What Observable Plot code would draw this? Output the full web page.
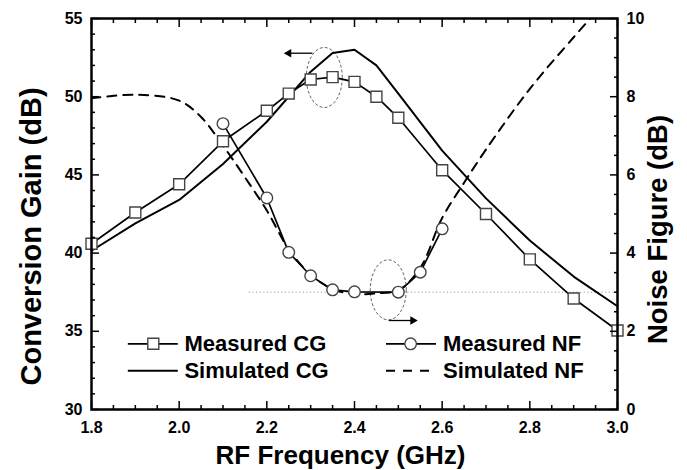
<!DOCTYPE html>
<html>
<head>
<meta charset="utf-8">
<script src="https://cdn.jsdelivr.net/npm/d3@7"></script>
<script src="https://cdn.jsdelivr.net/npm/@observablehq/plot@0.6"></script>
<style>
  html, body { margin: 0; padding: 0; background: #fff; }
  #chart { width: 687px; height: 470px; }
</style>
</head>
<body>
<div id="chart"></div>
<script>
// ---- data ----
const freqMeasCG = [1.8, 1.9, 2.0, 2.1, 2.2, 2.25, 2.3, 2.35, 2.4, 2.45, 2.5, 2.6, 2.7, 2.8, 2.9, 3.0];
const measuredCG = [40.6, 42.6, 44.4, 47.15, 49.1, 50.2, 51.1, 51.25, 50.95, 50.0, 48.65, 45.3, 42.5, 39.6, 37.1, 35.05];

const freqSimCG = [1.8, 1.9, 2.0, 2.1, 2.2, 2.3, 2.35, 2.4, 2.45, 2.5, 2.6, 2.7, 2.8, 2.9, 3.0];
const simulatedCG = [40.15, 41.9, 43.4, 45.7, 48.4, 51.6, 52.8, 53.0, 52.0, 50.2, 46.55, 43.5, 40.8, 38.5, 36.6];

const freqMeasNF = [2.1, 2.2, 2.25, 2.3, 2.35, 2.4, 2.5, 2.55, 2.6];
const measuredNF = [7.31, 5.41, 4.02, 3.42, 3.06, 3.01, 3.0, 3.51, 4.62];

const freqSimNF = [1.8, 1.9, 2.0, 2.05, 2.1, 2.15, 2.2, 2.25, 2.3, 2.35, 2.4, 2.45, 2.5, 2.55, 2.6, 2.65, 2.7, 2.8, 2.9, 2.95];
const simulatedNF = [7.96, 8.05, 7.9, 7.48, 6.75, 5.94, 5.09, 4.1, 3.45, 3.08, 2.95, 2.97, 3.05, 3.62, 4.9, 5.8, 6.65, 8.2, 9.52, 10.15];

const refNF = 3;                 // dotted reference level (dB)
const refNFRange = [2.16, 3.0];  // GHz

const xMajorTicks = [1.8, 2.0, 2.2, 2.4, 2.6, 2.8, 3.0];
const xAllTicks = d3.range(36, 61).map(k => k / 20);          // every 0.05 GHz
const cgMajorTicks = [30, 35, 40, 45, 50, 55];
const cgAllTicks = d3.range(30, 56);                            // every 1 dB
const nfMajorTicks = [0, 2, 4, 6, 8, 10];
const nfAllTicks = d3.range(0, 21).map(k => k / 2);             // every 0.5 dB

const legendLabels = ["Measured CG", "Simulated CG", "Measured NF", "Simulated NF"];
const xTitle = "RF Frequency (GHz)";
const yTitle = "Conversion Gain (dB)";
const y2Title = "Noise Figure (dB)";

// annotation ellipses (center in data units) and arrows
const ellipseCenters = [{f: 2.331, cg: 51.23}, {f: 2.477, nf: 3.06}];
const arrowsCG = [{f1: 2.304, f2: 2.25, cg: 52.78}];
const arrowsNF = [{f1: 2.478, f2: 2.533, cg: 35.69}];

// ---- helpers ----
const nfToCG = nf => 30 + nf * 2.5;   // right axis 0..10 maps onto left 30..55
const zip = (xs, ys) => xs.map((x, i) => ({x, y: ys[i]}));
const mCG = zip(freqMeasCG, measuredCG);
const sCG = zip(freqSimCG, simulatedCG);
const mNF = zip(freqMeasNF, measuredNF.map(nfToCG));
const sNF = zip(freqSimNF, simulatedNF.map(nfToCG));

const ellipseSymbol = {
  draw(ctx) {
    const rx = 18, ry = 30, k = 0.5523;
    ctx.moveTo(rx, 0);
    ctx.bezierCurveTo(rx, ry * k, rx * k, ry, 0, ry);
    ctx.bezierCurveTo(-rx * k, ry, -rx, ry * k, -rx, 0);
    ctx.bezierCurveTo(-rx, -ry * k, -rx * k, -ry, 0, -ry);
    ctx.bezierCurveTo(rx * k, -ry, rx, -ry * k, rx, 0);
    ctx.closePath();
  }
};
const ellipses = [
  {x: ellipseCenters[0].f, y: ellipseCenters[0].cg},
  {x: ellipseCenters[1].f, y: nfToCG(ellipseCenters[1].nf)}
];
const arrows = [
  {x1: arrowsCG[0].f1, x2: arrowsCG[0].f2, y: arrowsCG[0].cg, rot: -90},
  {x1: arrowsNF[0].f1, x2: arrowsNF[0].f2, y: arrowsNF[0].cg, rot: 90}
];

// legend layout (data units)
const legRowY = [34.2, 32.48];
const legLeft = {x1: 1.884, x2: 1.998, xm: 1.941, xt: 2.012};
const legRight = {x1: 2.473, x2: 2.587, xm: 2.528, xt: 2.602};
const legendText = [
  {x: legLeft.xt, y: legRowY[0], t: legendLabels[0]},
  {x: legLeft.xt, y: legRowY[1], t: legendLabels[1]},
  {x: legRight.xt, y: legRowY[0], t: legendLabels[2]},
  {x: legRight.xt, y: legRowY[1], t: legendLabels[3]}
];

const font = "'Liberation Sans', Arial, Helvetica, sans-serif";
const noText = () => "";
const isMajorX = d => xMajorTicks.some(m => Math.abs(m - d) < 1e-9);

const chart = Plot.plot({
  width: 687,
  height: 470,
  marginLeft: 91,
  marginRight: 70,
  marginTop: 18,
  marginBottom: 61,
  x: {domain: [1.8, 3.0]},
  y: {domain: [30, 55]},
  style: {fontFamily: font, fontWeight: "bold", fontSize: "16px", background: "#fff", color: "#000", overflow: "visible"},
  marks: [
    // dotted reference line at NF = 3 dB
    Plot.ruleY([nfToCG(refNF)], {x1: refNFRange[0], x2: refNFRange[1], stroke: "#9a9a9a", strokeWidth: 1, strokeDasharray: "1.2,2.4"}),
    // dashed ellipses
    Plot.dot(ellipses, {x: "x", y: "y", symbol: ellipseSymbol, r: 10, fill: "none", stroke: "#666", strokeWidth: 1, strokeDasharray: "3,2"}),
    // arrows
    Plot.link(arrows, {x1: "x1", x2: "x2", y1: "y", y2: "y", stroke: "#000", strokeWidth: 1.3}),
    Plot.dot(arrows, {x: "x2", y: "y", symbol: "triangle", r: 3.2, rotate: "rot", fill: "#000", stroke: "none"}),
    // simulated curves
    Plot.line(sCG, {x: "x", y: "y", stroke: "#000", strokeWidth: 2}),
    Plot.line(sNF, {x: "x", y: "y", stroke: "#000", strokeWidth: 2, strokeDasharray: "9,7", curve: "catmull-rom", clip: true}),
    // measured curves
    Plot.line(mCG, {x: "x", y: "y", stroke: "#000", strokeWidth: 1.7}),
    Plot.line(mNF, {x: "x", y: "y", stroke: "#000", strokeWidth: 1.7}),
    Plot.dot(mCG, {x: "x", y: "y", symbol: "square", r: 6.2, fill: "#fff", stroke: "#444", strokeWidth: 1.4}),
    Plot.dot(mNF, {x: "x", y: "y", symbol: "circle", r: 5.8, fill: "#fff", stroke: "#444", strokeWidth: 1.4}),

    // legend
    Plot.ruleY([legRowY[0]], {x1: legLeft.x1, x2: legLeft.x2, stroke: "#000", strokeWidth: 1.7}),
    Plot.dot([{x: legLeft.xm, y: legRowY[0]}], {x: "x", y: "y", symbol: "square", r: 6.2, fill: "#fff", stroke: "#444", strokeWidth: 1.4}),
    Plot.ruleY([legRowY[1]], {x1: legLeft.x1, x2: legLeft.x2, stroke: "#000", strokeWidth: 2}),
    Plot.ruleY([legRowY[0]], {x1: legRight.x1, x2: legRight.x2, stroke: "#000", strokeWidth: 1.7}),
    Plot.dot([{x: legRight.xm, y: legRowY[0]}], {x: "x", y: "y", symbol: "circle", r: 5.8, fill: "#fff", stroke: "#444", strokeWidth: 1.4}),
    Plot.ruleY([legRowY[1]], {x1: legRight.x1, x2: legRight.x2, stroke: "#000", strokeWidth: 2, strokeDasharray: "9,8"}),
    Plot.text(legendText, {x: "x", y: "y", text: "t", textAnchor: "start", lineAnchor: "middle", fontSize: 22, fontWeight: "bold", fill: "#000"}),

    // axes: inward ticks
    Plot.axisX(xAllTicks.filter(d => !isMajorX(d)), {anchor: "bottom", tickSize: -4, tickFormat: noText, label: null, strokeWidth: 1.5}),
    Plot.axisX(xMajorTicks, {anchor: "bottom", tickSize: -8, tickFormat: noText, label: null, strokeWidth: 1.5}),
    Plot.axisX(xAllTicks.filter(d => !isMajorX(d)), {anchor: "top", tickSize: -4, tickFormat: noText, label: null, strokeWidth: 1.5}),
    Plot.axisX(xMajorTicks, {anchor: "top", tickSize: -8, tickFormat: noText, label: null, strokeWidth: 1.5}),
    Plot.axisX(xMajorTicks, {anchor: "bottom", tickSize: 0, tickPadding: 12, tickFormat: d => d.toFixed(1), label: null, fontSize: 16, fontWeight: "bold"}),

    Plot.axisY(cgAllTicks.filter(d => !cgMajorTicks.includes(d)), {anchor: "left", tickSize: -4, tickFormat: noText, label: null, strokeWidth: 1.5}),
    Plot.axisY(cgMajorTicks, {anchor: "left", tickSize: -8, tickFormat: noText, label: null, strokeWidth: 1.5}),
    Plot.axisY(cgMajorTicks, {anchor: "left", tickSize: 0, tickPadding: 9, tickFormat: d => String(d), label: null, fontSize: 16, fontWeight: "bold"}),

    Plot.axisY(nfAllTicks.filter(d => !nfMajorTicks.includes(d)).map(nfToCG), {anchor: "right", tickSize: -4, tickFormat: noText, label: null, strokeWidth: 1.5}),
    Plot.axisY(nfMajorTicks.map(nfToCG), {anchor: "right", tickSize: -8, tickFormat: noText, label: null, strokeWidth: 1.5}),
    Plot.axisY(nfMajorTicks.map(nfToCG), {anchor: "right", tickSize: 0, tickPadding: 9, tickFormat: d => String(Math.round((d - 30) / 2.5)), label: null, fontSize: 16, fontWeight: "bold"}),

    Plot.frame({stroke: "#000", strokeWidth: 2.5}),

    // axis titles
    Plot.text([xTitle], {frameAnchor: "bottom", text: d => d, dx: -14, dy: 54, lineAnchor: "bottom", textAnchor: "middle", fontSize: 26, fontWeight: "bold", fill: "#000"}),
    Plot.text([yTitle], {frameAnchor: "left", text: d => d, dx: -51, dy: 22.5, rotate: -90, lineAnchor: "bottom", textAnchor: "middle", fontSize: 29, fontWeight: "bold", fill: "#000"}),
    Plot.text([y2Title], {frameAnchor: "right", text: d => d, dx: 49, dy: 15.5, rotate: -90, lineAnchor: "bottom", textAnchor: "middle", fontSize: 27.5, fontWeight: "bold", fill: "#000"})
  ]
});
document.getElementById("chart").appendChild(chart);
</script>
</body>
</html>
